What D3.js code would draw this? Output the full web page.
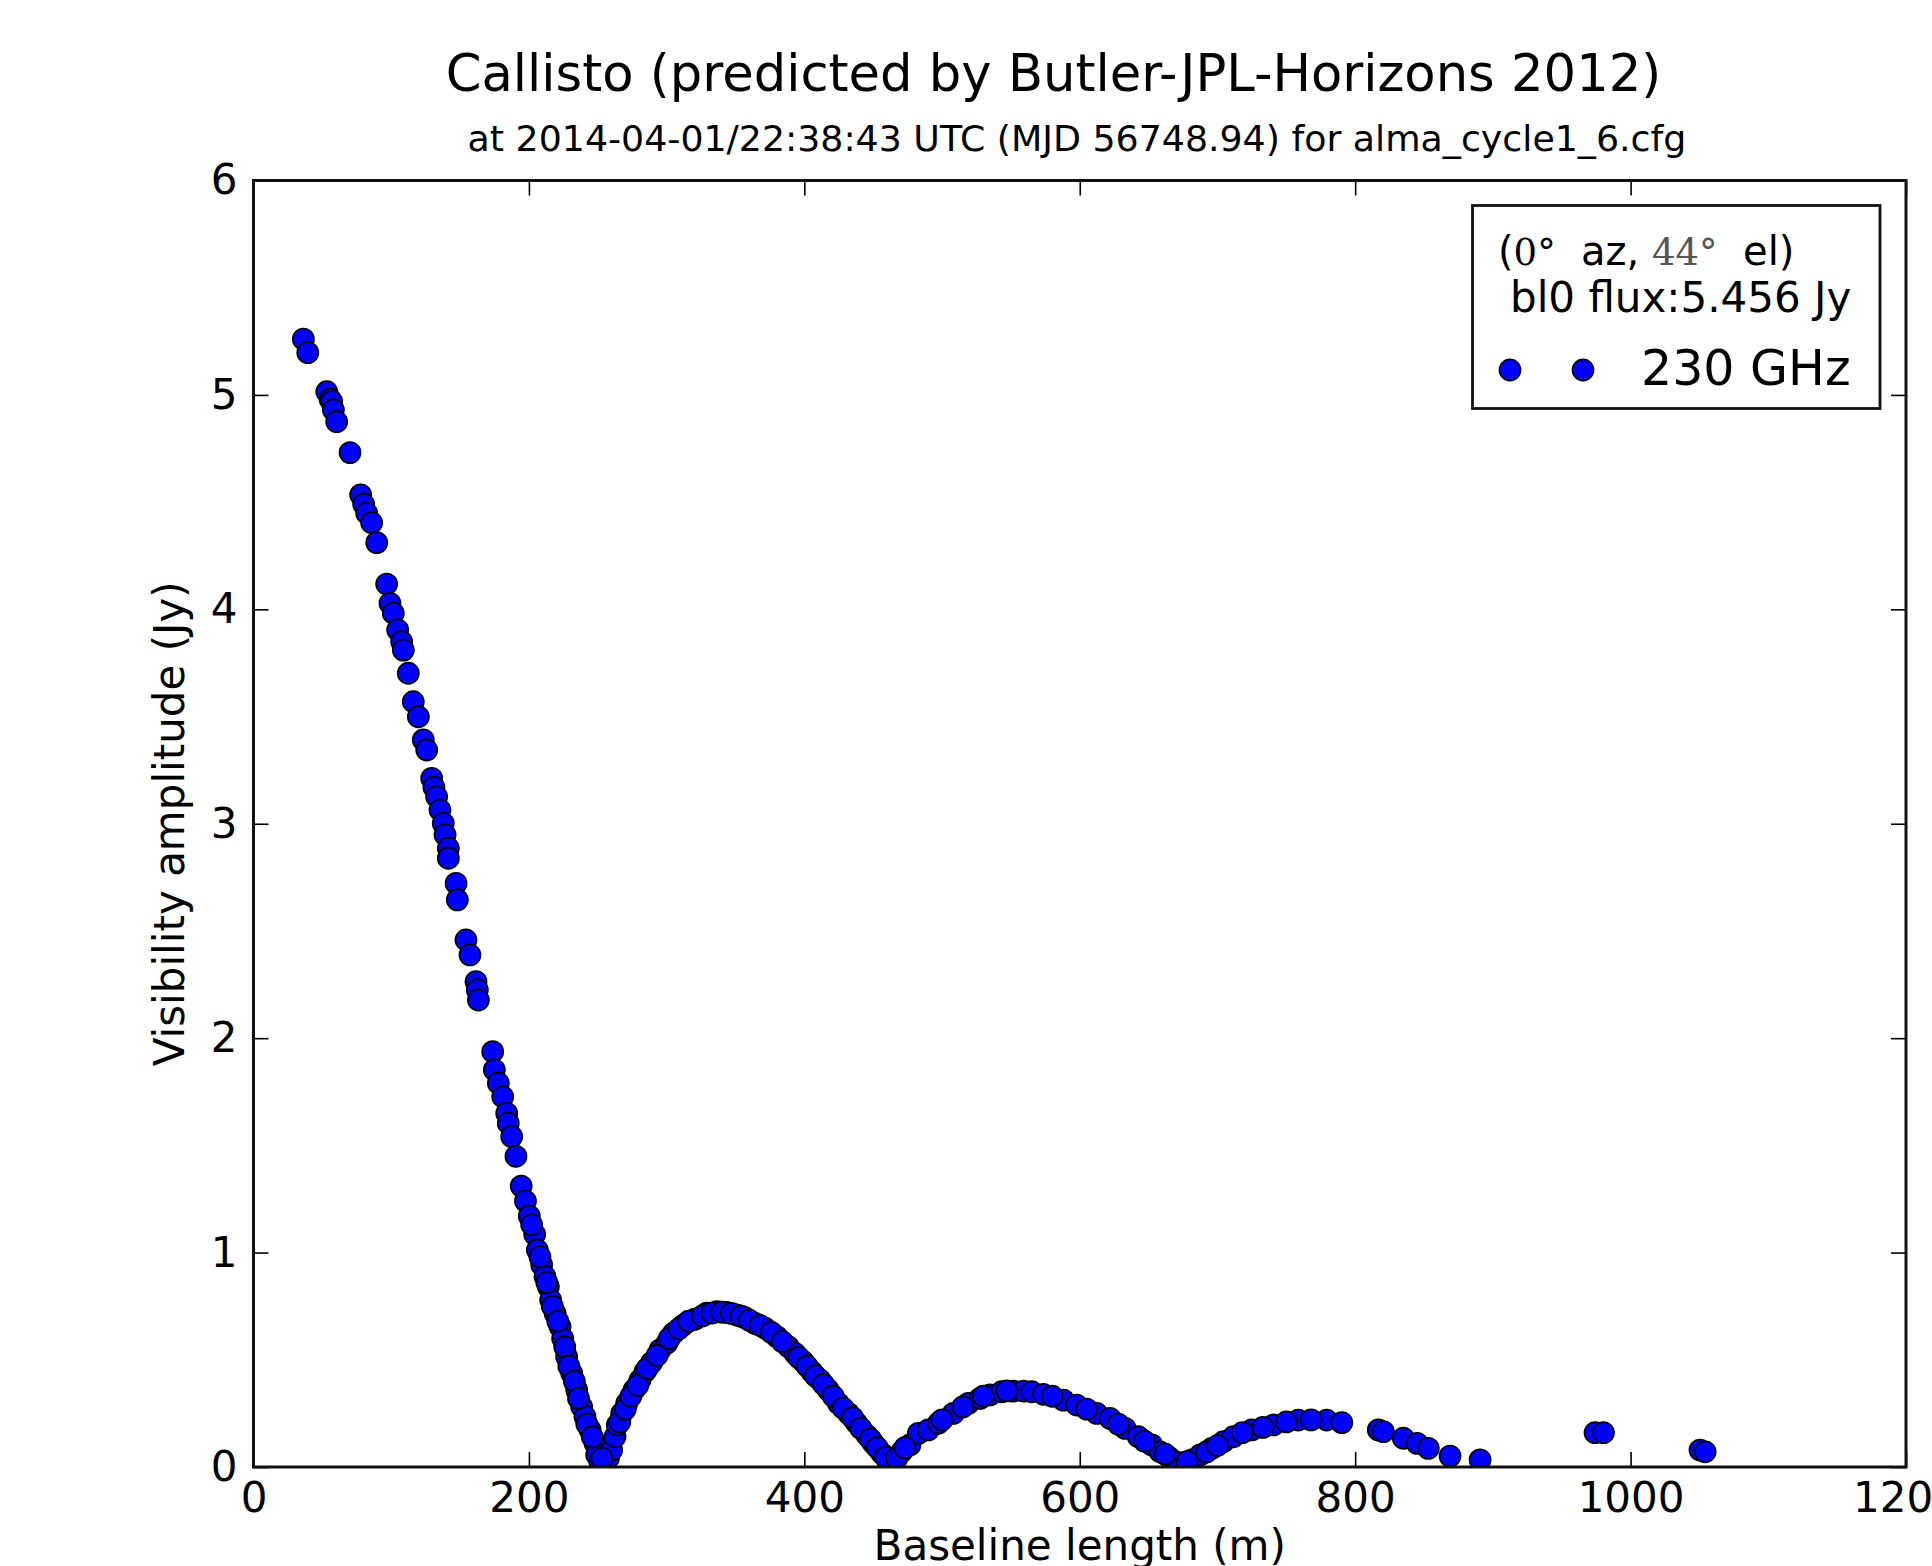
<!DOCTYPE html>
<html><head><meta charset="utf-8">
<script src="https://cdn.jsdelivr.net/npm/d3@7/dist/d3.min.js"></script>
<style>html,body{margin:0;padding:0;background:#fff;overflow:hidden}</style>
</head><body>
<svg id="c" width="1932" height="1566" xmlns="http://www.w3.org/2000/svg"></svg>
<script>
// ---- data ----
const baselineM = [
  36.2,39.4,53.2,55.6,56.8,58.0,60.4,70.1,77.8,80.0,82.2,85.8,89.5,96.7,99.1,101.5,104.7,107.6,108.8,112.4,
  116.0,119.7,123.3,125.8,129.4,131.0,133.0,135.4,137.8,139.1,141.5,141.5,147.1,148.0,154.3,157.2,161.6,162.5,163.3,
  173.7,174.9,177.8,181.0,183.9,185.0,187.5,190.6,194.4,197.5,200.3,204.2,206.1,209.3,211.7,214.1,215.8,219.0,222.6,
  224.5,227.4,231.1,234.7,238.3,240.7,244.4,248.0,249.2,251.6,255.0,257.7,260.1,262.5,264.2,267.4,271.0,276.3,280.7,
  284.3,289.2,295.2,300.1,304.9,312.1,320.6,329.1,336.4,343.6,350.9,356.9,364.2,371.5,380.0,388.4,393.2,399.3,405.4,
  411.4,417.4,424.7,432.0,438.0,445.3,450.1,456.2,461.0,464.6,470.7,476.7,482.8,490.0,497.3,508.2,519.1,527.6,534.8,
  543.3,551.8,559.0,565.1,573.6,588.1,597.8,612.3,622.0,632.9,642.5,652.3,658.3,665.6,672.8,681.3,687.4,695.8,704.3,
  711.5,724.9,740.6,758.7,779.3,790.3,816.8,820.5,835.0,845.0,853.1,868.9,890.7,974.2,980.3,1050.4,1054.1,
  266,270,274,279,286,293,302,309,316,326,333,340,347,354,360,368,376,384,396,402,408,414,421,428,435,441,448,453,459,467,473,
  202,208,213,217,221,226,229,233,236,242,246,253,
  500,515,530,547,580,605,628,647,662,678,692,700,718,733,750,768
];
const amplitudeJy = [
  5.26,5.197,5.015,4.98,4.969,4.93,4.875,4.731,4.534,4.49,4.448,4.404,4.311,4.118,4.028,3.982,3.904,3.849,3.81,3.702,
  3.569,3.499,3.391,3.344,3.212,3.17,3.126,3.064,3.002,2.948,2.886,2.839,2.722,2.645,2.458,2.388,2.264,2.225,2.178,
  1.937,1.852,1.79,1.727,1.65,1.603,1.541,1.449,1.31,1.24,1.17,1.085,1.012,0.942,0.888,0.841,0.779,0.717,0.654,
  0.6,0.514,0.437,0.359,0.281,0.235,0.173,0.111,0.056,0.025,0.02,0.041,0.079,0.141,0.196,0.25,0.297,0.359,0.406,
  0.445,0.488,0.546,0.577,0.624,0.662,0.689,0.717,0.724,0.721,0.709,0.696,0.67,0.647,0.608,0.561,0.53,0.491,0.445,
  0.406,0.359,0.297,0.25,0.204,0.149,0.111,0.064,0.033,0.025,0.071,0.103,0.157,0.173,0.204,0.25,0.297,0.32,0.336,
  0.351,0.354,0.354,0.351,0.339,0.312,0.289,0.25,0.227,0.18,0.141,0.103,0.071,0.041,0.02,0.033,0.056,0.087,0.118,
  0.141,0.173,0.196,0.219,0.219,0.207,0.173,0.165,0.134,0.11,0.087,0.051,0.033,0.16,0.16,0.079,0.071,
  0.21,0.27,0.33,0.38,0.46,0.52,0.6,0.645,0.68,0.705,0.718,0.722,0.716,0.703,0.685,0.66,0.628,0.585,0.51,0.47,0.425,0.385,0.33,0.275,0.23,0.18,0.13,0.09,0.045,0.04,0.09,
  1.13,0.98,0.86,0.75,0.68,0.56,0.47,0.4,0.32,0.2,0.14,0.04,
  0.22,0.28,0.33,0.355,0.33,0.27,0.2,0.12,0.06,0.025,0.07,0.1,0.16,0.185,0.21,0.22
];
const xTicks = [0, 200, 400, 600, 800, 1000, 1200];
const yTicks = [0, 1, 2, 3, 4, 5, 6];
const xDomain = [0, 1200];
const yDomain = [0, 6];
const titleText = "Callisto (predicted by Butler-JPL-Horizons 2012)";
const subtitleText = "at 2014-04-01/22:38:43 UTC (MJD 56748.94) for alma_cycle1_6.cfg";
const xLabelText = "Baseline length (m)";
const yLabelText = "Visibility amplitude (Jy)";
const legendAz = "0°", legendEl = "44°";
const legendFlux = "bl0 flux:5.456 Jy";
const seriesName = "230 GHz";

// ---- layout ----
const FONT = "'DejaVu Sans', sans-serif";
const SERIF = "'DejaVu Serif', serif";
const plot = {left: 253.5, right: 1906, top: 180.5, bottom: 1467};
const x = d3.scaleLinear().domain(xDomain).range([plot.left, plot.right]);
const y = d3.scaleLinear().domain(yDomain).range([plot.bottom, plot.top]);
const svg = d3.select("#c");
svg.append("rect").attr("width", 1932).attr("height", 1566).attr("fill", "#fff");

svg.append("defs").append("clipPath").attr("id", "clip")
  .append("rect").attr("x", plot.left).attr("y", plot.top)
  .attr("width", plot.right - plot.left).attr("height", plot.bottom - plot.top);

// points
const pts = baselineM.map((b, i) => ({b, a: amplitudeJy[i]}));
svg.append("g").attr("clip-path", "url(#clip)")
  .selectAll("circle").data(pts).join("circle")
  .attr("cx", d => x(d.b)).attr("cy", d => y(d.a)).attr("r", 10.6)
  .attr("fill", "#0000ff").attr("stroke", "#000").attr("stroke-width", 1.6);

// axes (ticks inside on all four sides)
const TL = 15;
function styleAxis(g) {
  g.select(".domain").remove();
  g.selectAll(".tick line").attr("stroke", "#000").attr("stroke-width", 1.6);
  g.selectAll("text").attr("font-family", FONT).attr("font-size", 42).attr("fill", "#000");
}
svg.append("g").attr("transform", `translate(0,${plot.bottom})`)
  .call(d3.axisBottom(x).tickValues(xTicks).tickFormat(d3.format("d")).tickSizeInner(-TL).tickSizeOuter(0).tickPadding(15))
  .call(styleAxis);
svg.append("g").attr("transform", `translate(0,${plot.top})`)
  .call(d3.axisTop(x).tickValues(xTicks).tickFormat("").tickSizeInner(-TL).tickSizeOuter(0))
  .call(styleAxis);
svg.append("g").attr("transform", `translate(${plot.left},0)`)
  .call(d3.axisLeft(y).tickValues(yTicks).tickFormat(d3.format("d")).tickSizeInner(-TL).tickSizeOuter(0).tickPadding(16))
  .call(styleAxis);
svg.append("g").attr("transform", `translate(${plot.right},0)`)
  .call(d3.axisRight(y).tickValues(yTicks).tickFormat("").tickSizeInner(-TL).tickSizeOuter(0))
  .call(styleAxis);

// frame
svg.append("rect").attr("x", plot.left).attr("y", plot.top)
  .attr("width", plot.right - plot.left).attr("height", plot.bottom - plot.top)
  .attr("fill", "none").attr("stroke", "#111").attr("stroke-width", 3);

// titles
svg.append("text").attr("x", 1053.5).attr("y", 91).attr("text-anchor", "middle")
  .attr("font-family", FONT).attr("font-size", 51.2).attr("fill", "#000").text(titleText);
svg.append("text").attr("x", 1077).attr("y", 151).attr("text-anchor", "middle")
  .attr("font-family", FONT).attr("font-size", 36.3).attr("fill", "#000").text(subtitleText);

// axis labels
svg.append("text").attr("x", (plot.left + plot.right) / 2).attr("y", 1560).attr("text-anchor", "middle")
  .attr("font-family", FONT).attr("font-size", 42).attr("fill", "#000").text(xLabelText);
svg.append("text").attr("transform", `translate(184,${(plot.top + plot.bottom) / 2}) rotate(-90)`)
  .attr("text-anchor", "middle")
  .attr("font-family", FONT).attr("font-size", 42).attr("fill", "#000").text(yLabelText);

// legend
const lg = svg.append("g");
lg.append("rect").attr("x", 1472.5).attr("y", 205.5).attr("width", 407.5).attr("height", 203)
  .attr("fill", "#fff").attr("stroke", "#111").attr("stroke-width", 2.8);
const l1 = lg.append("text").attr("x", 1498).attr("y", 265).attr("font-family", FONT)
  .attr("font-size", 40).attr("fill", "#000").style("white-space", "pre");
l1.append("tspan").text("(");
l1.append("tspan").attr("font-family", SERIF).attr("font-size", 37).text(legendAz);
l1.append("tspan").text("  az, ");
l1.append("tspan").attr("font-family", SERIF).attr("font-size", 37).attr("fill", "#555").text(legendEl);
l1.append("tspan").text("  el)");
lg.append("text").attr("x", 1510).attr("y", 312).attr("font-family", FONT)
  .attr("font-size", 42).attr("fill", "#000").text(legendFlux);
lg.selectAll("circle.leg").data([1510, 1583]).join("circle").attr("class", "leg")
  .attr("cx", d => d).attr("cy", 370).attr("r", 10.6)
  .attr("fill", "#0000ff").attr("stroke", "#000").attr("stroke-width", 1.6);
lg.append("text").attr("x", 1641).attr("y", 385).attr("font-family", FONT)
  .attr("font-size", 49).attr("fill", "#000").text(seriesName);
</script>
</body></html>
